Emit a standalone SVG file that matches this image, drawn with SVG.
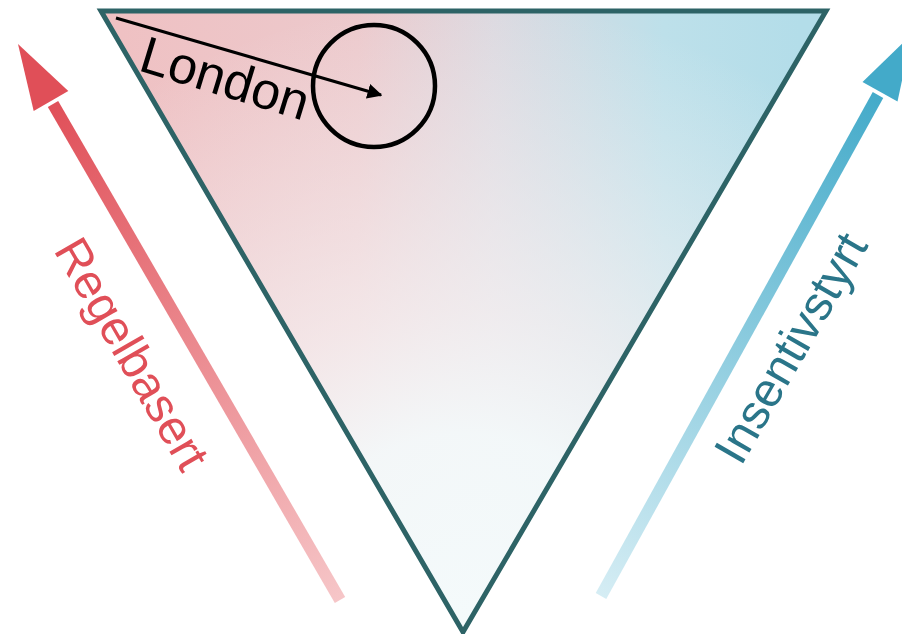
<svg xmlns="http://www.w3.org/2000/svg" width="902" height="634" viewBox="0 0 902 634">
<style>
.lbl{font-family:"Liberation Sans",Arial,sans-serif;font-size:48px}
</style>
<defs>
<linearGradient id="base" gradientUnits="userSpaceOnUse" x1="120" y1="40" x2="800" y2="40">
<stop offset="0" stop-color="#efc1c3"/>
<stop offset="0.35" stop-color="#ecc9cc"/>
<stop offset="0.55" stop-color="#dcd9e0"/>
<stop offset="0.8" stop-color="#bde0ea"/>
<stop offset="1" stop-color="#b3dde9"/>
</linearGradient>
<radialGradient id="wash" gradientUnits="userSpaceOnUse" cx="463" cy="620" r="620">
<stop offset="0" stop-color="#f4fafb" stop-opacity="1"/>
<stop offset="0.3" stop-color="#f4f9fa" stop-opacity="0.95"/>
<stop offset="0.5" stop-color="#f6f2f3" stop-opacity="0.72"/>
<stop offset="1" stop-color="#f6f2f3" stop-opacity="0"/>
</radialGradient>
<linearGradient id="redg" gradientUnits="userSpaceOnUse" x1="340" y1="600" x2="51" y2="101">
<stop offset="0" stop-color="#f6c6c8"/>
<stop offset="1" stop-color="#e04f58"/>
</linearGradient>
<linearGradient id="blueg" gradientUnits="userSpaceOnUse" x1="601" y1="596" x2="880" y2="92">
<stop offset="0" stop-color="#d5edf4"/>
<stop offset="1" stop-color="#43aac9"/>
</linearGradient>
<marker id="ah" viewBox="0 0 10 10" refX="9" refY="5" markerWidth="5" markerHeight="5" orient="auto" markerUnits="strokeWidth">
<path d="M0,0 L10,5 L0,10 Z" fill="#000"/>
</marker>
</defs>
<g id="triangle">
<polygon points="101,11 826,11 463,632" fill="url(#base)"/>
<polygon points="101,11 826,11 463,632" fill="url(#wash)" stroke="#2d6366" stroke-width="5" stroke-linejoin="miter"/>
</g>
<g id="left-arrow">
<line x1="340" y1="600" x2="53" y2="104" stroke="url(#redg)" stroke-width="12"/>
<polygon points="18,44 68.3,91 33.7,111" fill="#e04f58"/>
<text class="lbl" fill="#e04f58" transform="translate(53,250) rotate(60)">Regelbasert</text>
</g>
<g id="right-arrow">
<line x1="601" y1="596" x2="878" y2="95" stroke="url(#blueg)" stroke-width="12"/>
<polygon points="912,34 897.5,101.5 862.5,82" fill="#43aac9"/>
<text class="lbl" fill="#2a7589" transform="translate(741,467) rotate(-60)">Insentivstyrt</text>
</g>
<g id="london">
<circle cx="374" cy="86" r="61" fill="none" stroke="#000" stroke-width="4.5"/>
<text class="lbl" fill="#000" style="font-size:52px" transform="translate(137,70) rotate(17)">London</text>
</g>
<g id="connectors">
<line x1="116" y1="18" x2="381" y2="95" stroke="#000" stroke-width="3" marker-end="url(#ah)"/>
</g>
</svg>
